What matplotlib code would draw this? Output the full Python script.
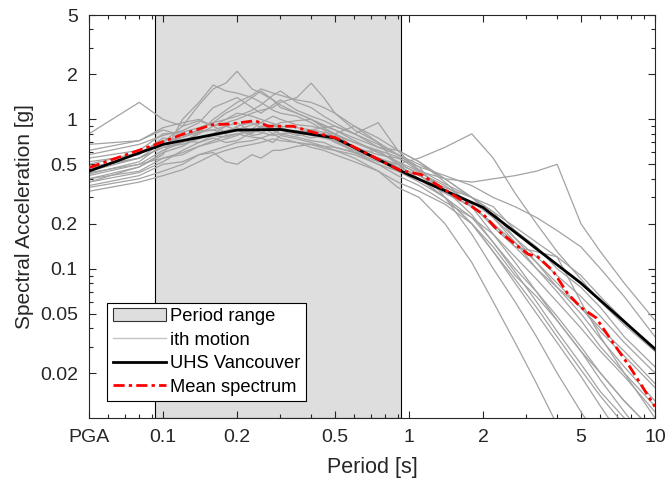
import numpy as np
import matplotlib
matplotlib.use("Agg")
import matplotlib.pyplot as plt
from matplotlib.patches import Patch
from matplotlib.lines import Line2D
from matplotlib.ticker import FixedLocator, LogLocator, NullFormatter

plt.rcParams['font.family'] = ['Liberation Sans', 'DejaVu Sans']

# period range used for scaling
t_lo = 0.093
t_hi = 0.93

# UHS Vancouver (PGA plotted at 0.05 s)
uhs_T = [0.05, 0.1, 0.2, 0.3, 0.5, 1.0, 2.0, 5.0, 10.0]
uhs_Sa = [0.45, 0.68, 0.848, 0.856, 0.751, 0.425, 0.257, 0.080, 0.029]

# mean spectrum of the suite
mean_T = [0.05, 0.093, 0.119, 0.158, 0.186, 0.237, 0.267, 0.338, 0.396, 0.505,
          0.59, 0.92, 1.12, 1.43, 1.74, 2.0, 2.3, 2.7, 3.05, 3.34, 3.84, 4.42,
          5.0, 5.75, 6.74, 7.9, 10.0]
mean_Sa = [0.475, 0.678, 0.79, 0.92, 0.93, 0.98, 0.90, 0.90, 0.83, 0.75,
           0.66, 0.455, 0.427, 0.33, 0.27, 0.232, 0.18, 0.146, 0.125, 0.12,
           0.097, 0.068, 0.055, 0.047, 0.032, 0.022, 0.0119]

# individual ground motions
motion_T = [0.05, 0.08, 0.1, 0.12, 0.14, 0.16, 0.18, 0.2, 0.23, 0.25, 0.28, 0.3,
            0.35, 0.4, 0.45, 0.5, 0.6, 0.75, 0.9, 1.1, 1.4, 1.8, 2.2, 2.7,
            3.3, 4.0, 5.0, 6.0, 7.5, 10.0]
motions = [
    [0.80, 1.30, 1.00, 0.90, 0.98, 0.90, 0.82, 0.85, 0.78, 0.80, 0.92, 0.88, 0.80, 0.75, 0.78, 0.70, 0.62, 0.55, 0.48, 0.42, 0.33, 0.26, 0.20, 0.15, 0.11, 0.08, 0.055, 0.040, 0.028, 0.017],
    [0.45, 0.55, 0.70, 0.90, 1.25, 1.60, 1.75, 2.10, 1.60, 1.50, 1.35, 1.20, 1.10, 1.00, 0.88, 0.80, 0.65, 0.55, 0.45, 0.38, 0.30, 0.22, 0.15, 0.10, 0.07, 0.048, 0.030, 0.020, 0.013, 0.008],
    [0.42, 0.50, 0.62, 0.70, 0.80, 0.90, 0.95, 1.00, 1.10, 1.15, 1.20, 1.30, 1.40, 1.75, 1.40, 1.10, 0.85, 0.70, 0.50, 0.40, 0.30, 0.20, 0.13, 0.085, 0.055, 0.035, 0.021, 0.014, 0.009, 0.005],
    [0.38, 0.48, 0.58, 1.00, 1.30, 1.70, 1.55, 1.50, 1.40, 1.30, 1.15, 1.10, 1.05, 0.95, 0.85, 0.75, 0.60, 0.50, 0.42, 0.36, 0.28, 0.22, 0.17, 0.12, 0.085, 0.060, 0.040, 0.028, 0.019, 0.011],
    [0.50, 0.60, 0.72, 0.76, 0.82, 0.85, 0.80, 0.90, 0.95, 0.88, 0.84, 0.80, 0.76, 0.72, 0.70, 0.65, 0.60, 0.52, 0.50, 0.55, 0.65, 0.80, 0.55, 0.32, 0.20, 0.13, 0.085, 0.060, 0.042, 0.028],
    [0.48, 0.55, 0.65, 0.68, 0.74, 0.80, 0.90, 0.85, 0.92, 0.95, 1.05, 1.00, 0.92, 0.90, 0.86, 0.80, 0.70, 0.60, 0.52, 0.45, 0.40, 0.38, 0.40, 0.42, 0.45, 0.50, 0.20, 0.13, 0.08, 0.045],
    [0.40, 0.48, 0.60, 0.66, 0.76, 0.80, 0.84, 0.88, 0.80, 0.90, 0.86, 0.85, 0.78, 0.80, 0.76, 0.72, 0.65, 0.58, 0.55, 0.48, 0.42, 0.36, 0.30, 0.26, 0.22, 0.18, 0.14, 0.10, 0.065, 0.035],
    [0.36, 0.42, 0.50, 0.52, 0.58, 0.62, 0.66, 0.70, 0.72, 0.75, 0.70, 0.78, 0.74, 0.70, 0.66, 0.62, 0.55, 0.45, 0.35, 0.30, 0.20, 0.11, 0.060, 0.032, 0.017, 0.009, 0.005, 0.003, 0.002, 0.001],
    [0.35, 0.40, 0.45, 0.50, 0.58, 0.60, 0.52, 0.50, 0.58, 0.55, 0.62, 0.62, 0.66, 0.68, 0.64, 0.62, 0.58, 0.50, 0.45, 0.40, 0.30, 0.20, 0.13, 0.08, 0.05, 0.032, 0.019, 0.012, 0.007, 0.004],
    [0.55, 0.62, 0.80, 0.82, 0.88, 0.95, 1.00, 1.05, 1.15, 1.25, 1.45, 1.55, 1.30, 1.20, 1.05, 0.95, 0.80, 0.65, 0.58, 0.50, 0.40, 0.30, 0.22, 0.15, 0.10, 0.07, 0.045, 0.030, 0.020, 0.012],
    [0.62, 0.72, 0.85, 0.78, 0.85, 0.95, 1.10, 1.20, 1.40, 1.55, 1.35, 1.25, 1.10, 1.00, 0.92, 0.85, 0.72, 0.60, 0.52, 0.42, 0.35, 0.30, 0.24, 0.16, 0.12, 0.09, 0.065, 0.048, 0.032, 0.020],
    [0.33, 0.38, 0.42, 0.46, 0.52, 0.58, 0.62, 0.65, 0.68, 0.70, 0.74, 0.72, 0.70, 0.68, 0.66, 0.65, 0.60, 0.55, 0.50, 0.44, 0.36, 0.27, 0.19, 0.14, 0.10, 0.075, 0.055, 0.038, 0.026, 0.016],
    [0.43, 0.52, 0.68, 0.76, 0.84, 0.85, 0.90, 0.95, 0.82, 0.85, 0.90, 0.95, 0.98, 1.00, 0.90, 0.85, 0.75, 0.65, 0.62, 0.52, 0.38, 0.26, 0.17, 0.11, 0.070, 0.045, 0.028, 0.018, 0.011, 0.006],
    [0.52, 0.58, 0.75, 0.72, 0.70, 0.78, 0.76, 0.80, 0.84, 0.82, 0.78, 0.80, 0.82, 0.85, 0.88, 0.90, 0.80, 0.95, 0.62, 0.45, 0.34, 0.28, 0.22, 0.16, 0.11, 0.075, 0.050, 0.034, 0.022, 0.013],
    [0.40, 0.45, 0.55, 0.60, 0.66, 0.72, 0.78, 0.80, 0.76, 0.75, 0.80, 0.85, 0.84, 0.82, 0.80, 0.78, 0.70, 0.62, 0.56, 0.45, 0.34, 0.23, 0.15, 0.095, 0.060, 0.038, 0.023, 0.015, 0.010, 0.006],
    [0.47, 0.55, 0.65, 0.70, 0.82, 1.00, 1.15, 1.30, 1.45, 1.60, 1.50, 1.45, 1.35, 1.30, 1.20, 1.10, 0.90, 0.75, 0.62, 0.52, 0.40, 0.30, 0.24, 0.19, 0.15, 0.12, 0.09, 0.065, 0.045, 0.028],
    [0.58, 0.68, 0.78, 0.84, 0.95, 1.20, 1.30, 1.40, 1.20, 1.10, 1.25, 1.35, 1.15, 1.05, 0.98, 0.90, 0.80, 0.68, 0.58, 0.48, 0.30, 0.17, 0.10, 0.06, 0.035, 0.020, 0.011, 0.007, 0.004, 0.002],
    [0.44, 0.50, 0.55, 0.58, 0.66, 0.70, 0.74, 0.78, 0.86, 0.95, 0.90, 0.88, 0.82, 0.78, 0.75, 0.72, 0.60, 0.62, 0.50, 0.40, 0.32, 0.26, 0.20, 0.14, 0.13, 0.12, 0.06, 0.035, 0.020, 0.010],
    [0.38, 0.44, 0.52, 0.62, 0.70, 0.75, 0.70, 0.72, 0.82, 0.90, 0.80, 0.75, 0.70, 0.65, 0.62, 0.58, 0.52, 0.45, 0.38, 0.33, 0.27, 0.20, 0.14, 0.09, 0.065, 0.045, 0.028, 0.020, 0.013, 0.008],
    [0.68, 0.72, 0.88, 0.95, 1.00, 0.90, 1.00, 1.10, 1.05, 1.00, 0.94, 0.90, 0.88, 0.85, 0.82, 0.80, 0.90, 0.70, 0.58, 0.46, 0.37, 0.30, 0.26, 0.18, 0.14, 0.10, 0.075, 0.055, 0.035, 0.022],
]

x_ticks = [0.05, 0.1, 0.2, 0.5, 1, 2, 5, 10]
x_labels = ['PGA', '0.1', '0.2', '0.5', '1', '2', '5', '10']
y_ticks = [0.02, 0.05, 0.1, 0.2, 0.5, 1, 2, 5]
y_labels = ['0.02', '0.05', '0.1', '0.2', '0.5', '1', '2', '5']

fig = plt.figure(figsize=(6.67, 4.84), dpi=100)
ax = fig.add_axes([0.1334, 0.1364, 0.8486, 0.8326])

ax.axvspan(t_lo, t_hi, facecolor='#dedede', edgecolor='k', linewidth=0.8, zorder=0)

for sa in motions:
    ax.plot(motion_T, sa, color='#a3a3a3', linewidth=0.9, zorder=2)

ax.plot(uhs_T, uhs_Sa, color='k', linewidth=2, zorder=3)
ax.plot(mean_T, mean_Sa, color='#ff0000', linewidth=2,
        linestyle=(0, (4, 1.5, 1.2, 1.5)), zorder=4)

ax.set_xscale('log')
ax.set_yscale('log')
ax.set_xlim(0.05, 10)
ax.set_ylim(0.01, 5)

ax.xaxis.set_major_locator(FixedLocator(x_ticks))
ax.set_xticklabels(x_labels)
ax.yaxis.set_major_locator(FixedLocator(y_ticks))
ax.set_yticklabels(y_labels)
for a in (ax.xaxis, ax.yaxis):
    a.set_minor_locator(LogLocator(base=10, subs=np.arange(2, 10)))
    a.set_minor_formatter(NullFormatter())

ax.tick_params(which='both', direction='in', top=True, right=True,
               labelsize=14, width=0.8, color='#262626', labelcolor='#262626')
ax.tick_params(which='major', length=5, pad=8)
ax.tick_params(which='minor', length=3)
for s in ax.spines.values():
    s.set_linewidth(0.8)
    s.set_color('#262626')

ax.set_xlabel('Period [s]', fontsize=15.5, color='#262626', labelpad=8)
ax.set_ylabel('Spectral Acceleration [g]', fontsize=15, color='#262626', labelpad=4)

handles = [
    Patch(facecolor='#dedede', edgecolor='#333333', linewidth=0.8),
    Line2D([], [], color='#c4c4c4', linewidth=1),
    Line2D([], [], color='k', linewidth=2),
    Line2D([], [], color='#ff0000', linewidth=2, linestyle=(0, (4, 1.5, 1.2, 1.5))),
]
labels = ['Period range', 'ith motion', 'UHS Vancouver', 'Mean spectrum']
leg = ax.legend(handles, labels, loc='lower left', bbox_to_anchor=(0.032, 0.042),
                fontsize=13.2, frameon=True, fancybox=False, edgecolor='k',
                framealpha=1, borderpad=0.3, handlelength=2.9, handletextpad=0.25,
                labelspacing=0.35, borderaxespad=0)
leg.get_frame().set_linewidth(0.8)

fig.savefig('out.png', dpi=100)
